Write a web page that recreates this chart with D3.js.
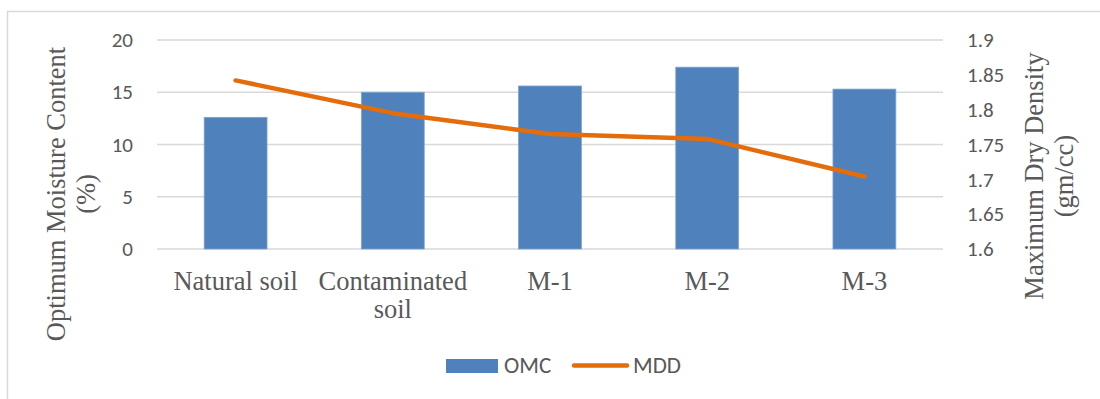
<!DOCTYPE html>
<html>
<head>
<meta charset="utf-8">
<script src="https://cdn.jsdelivr.net/npm/d3@7"></script>
<style>
  html, body { margin: 0; padding: 0; background: #fff; }
  svg { display: block; }
  .tick-label { font-family: Carlito, Calibri, Lato, sans-serif; font-size: 21px; fill: #595959; }
  .cat-label, .axis-title { font-family: "Liberation Serif", "Times New Roman", serif; font-size: 26.5px; fill: #595959; }
  .legend-label { font-family: Carlito, Calibri, Lato, sans-serif; font-size: 23px; fill: #595959; }
</style>
</head>
<body>
<svg id="chart" width="1100" height="399"></svg>
<script>
// Compaction results per soil mix
const categories = ["Natural soil", "Contaminated soil", "M-1", "M-2", "M-3"];
const omcValues = [12.6, 15.0, 15.6, 17.4, 15.3];          // Optimum moisture content (%)
const mddValues = [1.842, 1.795, 1.765, 1.758, 1.704];     // Maximum dry density (gm/cc)
const leftTicks = [0, 5, 10, 15, 20];
const rightTicks = [1.6, 1.65, 1.7, 1.75, 1.8, 1.85, 1.9];
const seriesNames = ["OMC", "MDD"];

const svg = d3.select("#chart");
const plot = { left: 157, right: 943, top: 40, bottom: 249 };
const textColor = "#595959";
const gridColor = "#D9D9D9";
const barColor = "#4F81BD";
const lineColor = "#E46C0A";

// Outer chart frame
svg.append("rect")
  .attr("x", 7.5).attr("y", 11.5)
  .attr("width", 1200).attr("height", 500)
  .attr("fill", "none").attr("stroke", gridColor).attr("stroke-width", 1.5);

const x = d3.scaleBand()
  .domain(categories)
  .range([plot.left, plot.right])
  .paddingInner(0.6)
  .paddingOuter(0.3);

const yLeft = d3.scaleLinear().domain([0, 20]).range([plot.bottom, plot.top]);
const yRight = d3.scaleLinear().domain([1.6, 1.9]).range([plot.bottom, plot.top]);

// Horizontal gridlines from the primary axis
svg.append("g")
  .selectAll("line")
  .data(leftTicks)
  .join("line")
  .attr("x1", plot.left).attr("x2", plot.right)
  .attr("y1", d => yLeft(d)).attr("y2", d => yLeft(d))
  .attr("stroke", gridColor).attr("stroke-width", 1.5);

// Left axis labels
const leftAxis = svg.append("g")
  .attr("transform", `translate(${plot.left},0)`)
  .call(d3.axisLeft(yLeft).tickValues(leftTicks).tickSize(0).tickPadding(24).tickFormat(d3.format("d")));
leftAxis.select(".domain").remove();
leftAxis.selectAll("text").attr("class", "tick-label").attr("fill", textColor);

// Right axis labels
const rightAxis = svg.append("g")
  .attr("transform", `translate(${plot.right},0)`)
  .call(d3.axisRight(yRight).tickValues(rightTicks).tickSize(0).tickPadding(24).tickFormat(d => String(+d.toFixed(2))));
rightAxis.select(".domain").remove();
rightAxis.selectAll("text").attr("class", "tick-label").attr("fill", textColor);

// Bars (OMC)
svg.append("g")
  .selectAll("rect")
  .data(categories.map((c, i) => ({ c, v: omcValues[i] })))
  .join("rect")
  .attr("x", d => x(d.c))
  .attr("width", x.bandwidth())
  .attr("y", d => yLeft(d.v))
  .attr("height", d => yLeft(0) - yLeft(d.v))
  .attr("fill", barColor)
  .attr("stroke", "#7FA4D3")
  .attr("stroke-width", 0.8);

// Line (MDD)
const line = d3.line()
  .x((d, i) => x(categories[i]) + x.bandwidth() / 2)
  .y(d => yRight(d));
svg.append("path")
  .datum(mddValues)
  .attr("d", line)
  .attr("fill", "none")
  .attr("stroke", lineColor)
  .attr("stroke-width", 4.5)
  .attr("stroke-linecap", "round")
  .attr("stroke-linejoin", "round");

// Category axis with wrapped labels
const catAxis = svg.append("g")
  .attr("transform", `translate(0,${plot.bottom})`)
  .call(d3.axisBottom(x).tickSize(0));
catAxis.select(".domain").remove();
catAxis.selectAll("text")
  .attr("class", "cat-label")
  .attr("fill", textColor)
  .attr("dy", null)
  .each(function(d) {
    const t = d3.select(this);
    const maxW = x.step();
    const words = d.split(" ");
    t.text(null);
    let lines = [];
    let current = [];
    const probe = t.append("tspan");
    words.forEach(w => {
      const trial = current.concat([w]).join(" ");
      probe.text(trial);
      if (probe.node().getComputedTextLength() > maxW && current.length) {
        lines.push(current.join(" "));
        current = [w];
      } else {
        current.push(w);
      }
    });
    lines.push(current.join(" "));
    probe.remove();
    lines.forEach((l, i) => {
      t.append("tspan").attr("x", 0).attr("y", 41 + i * 28).text(l);
    });
  });

// Axis titles
function rotatedTitle(lines, cx, cy, gap) {
  const g = svg.append("g").attr("transform", `translate(${cx},${cy}) rotate(-90)`);
  lines.forEach((l, i) => {
    g.append("text")
      .attr("class", "axis-title")
      .attr("text-anchor", "middle")
      .attr("x", 0)
      .attr("y", i * gap)
      .text(l);
  });
}
rotatedTitle(["Optimum Moisture Content", "(%)"], 65, 194, 30);
rotatedTitle(["Maximum Dry Density", "(gm/cc)"], 1043, 176, 30);

// Legend
const legend = svg.append("g");
legend.append("rect")
  .attr("x", 446).attr("y", 359).attr("width", 52).attr("height", 14)
  .attr("fill", barColor);
legend.append("text")
  .attr("class", "legend-label")
  .attr("x", 504).attr("y", 373)
  .text(seriesNames[0]);
legend.append("line")
  .attr("x1", 574).attr("x2", 627).attr("y1", 365.5).attr("y2", 365.5)
  .attr("stroke", lineColor).attr("stroke-width", 4.5).attr("stroke-linecap", "round");
legend.append("text")
  .attr("class", "legend-label")
  .attr("x", 633).attr("y", 373)
  .text(seriesNames[1]);
</script>
</body>
</html>
